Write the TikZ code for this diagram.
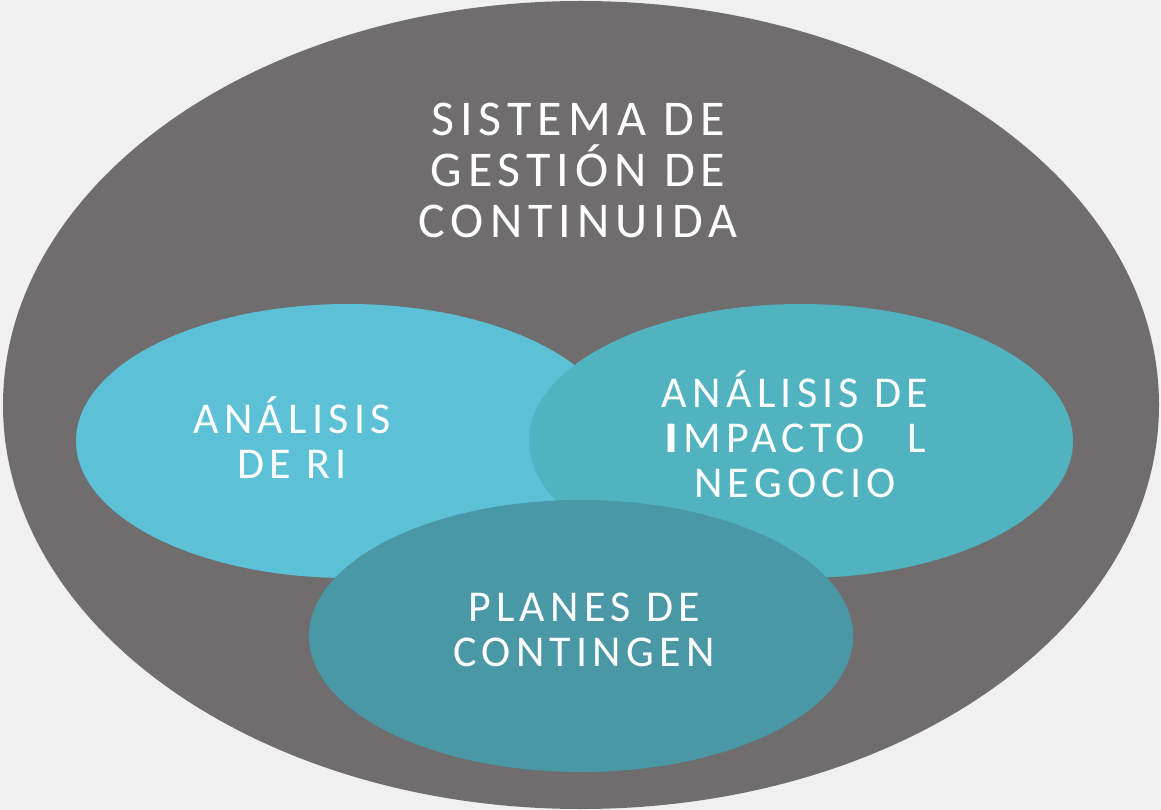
\documentclass[tikz,border=0pt]{standalone}
\usepackage{fontspec}
\setmainfont{Carlito}
\newfontfamily\spacedfont{Carlito}[LetterSpace=12]
\usepackage{tikz}

\definecolor{pagegray}{HTML}{F1F0F0}
\definecolor{outergray}{HTML}{6F6D6E}
\definecolor{riskblue}{HTML}{5CC1D7}
\definecolor{impactblue}{HTML}{52B3C0}
\definecolor{planblue}{HTML}{4A97A5}

\begin{document}
\begin{tikzpicture}[x=1pt,y=-1pt,
    lbl/.style={text=white,align=center,inner sep=0pt},
    bigtxt/.style={font=\spacedfont\fontsize{50}{51}\selectfont},
    smalltxt/.style={font=\spacedfont\fontsize{44}{45}\selectfont}]
  % page and outer ellipse
  \fill[pagegray] (0,0) rectangle (1161,810);
  \fill[outergray] (581,405) ellipse [x radius=578, y radius=404];
  % the three inner ellipses
  \fill[riskblue] (348,441) ellipse [x radius=272, y radius=137];
  \fill[impactblue] (801,441) ellipse [x radius=272, y radius=137];
  \fill[planblue] (581,636) ellipse [x radius=272, y radius=136];
  % labels
  \node[lbl,bigtxt] (sgc) at (578,170) {SISTEMA DE\\GESTIÓN DE\\CONTINUIDA};
  \node[lbl,smalltxt] (riesgo) at (292,438) {ANÁLISIS\\DE RI};
  \node[lbl,smalltxt] (bia) at (795,434)
    {ANÁLISIS DE\\\makebox[262pt]{\rlap{I}\kern3pt IMPACTO\hfill L}\\NEGOCIO};
  \node[lbl,smalltxt] (planes) at (584,630) {PLANES DE\\CONTINGEN};
\end{tikzpicture}
\end{document}
